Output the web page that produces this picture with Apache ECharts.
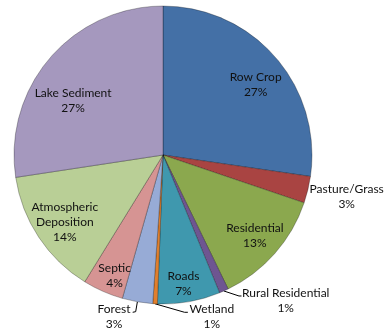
<!DOCTYPE html>
<html>
<head>
<meta charset="utf-8">
<script src="https://cdn.jsdelivr.net/npm/echarts@6/dist/echarts.min.js"></script>
<style>
  html, body { margin: 0; padding: 0; background: #fff; }
  #chart { width: 390px; height: 334px; }
</style>
</head>
<body>
<div id="chart"></div>
<script>
// Phosphorus load by source (share of total, %)
const categories = ['Row Crop', 'Pasture/Grass', 'Residential', 'Rural Residential', 'Roads',
  'Wetland', 'Forest', 'Septic', 'Atmospheric Deposition', 'Lake Sediment'];
const loadShare = [27.3, 2.9, 12.6, 1.0, 6.8, 0.5, 3.3, 4.4, 13.8, 27.4];
const labelText = ['Row Crop', 'Pasture/Grass', 'Residential', 'Rural Residential', 'Roads',
  'Wetland', 'Forest', 'Septic', 'Atmospheric\nDeposition', 'Lake Sediment'];
const sliceColors = ['#4470a6', '#a94442', '#8ba84e', '#6e5591', '#3f98ae',
  '#e07f2d', '#97abd6', '#d69493', '#b9cf96', '#a598be'];
// slices labelled outside the pie with a callout
const calloutNames = ['Pasture/Grass', 'Rural Residential', 'Wetland', 'Forest'];

const total = loadShare.reduce((a, b) => a + b, 0);
const pct = v => Math.round(v / total * 100) + '%';

const CENTER = [163, 155];
const RADIUS = 149;
const FONT = { fontFamily: 'Lato', fontSize: 12, lineHeight: 15, color: '#111' };

// callout placement relative to the slice's edge anchor: label centre + leader line bends
const calloutGeom = {
  'Pasture/Grass':     { label: [38.8, 6.9],   line: null },
  'Rural Residential': { label: [61.8, 9.7],   line: [[15.1, 5], [17.6, 5]] },
  'Wetland':           { label: [56.8, 12.4],  line: [[29.5, 8.5], [32.8, 8.5]] },
  'Forest':            { label: [-23.4, 14.4], line: [[-1.7, 9.9], [-4.7, 10.5]] }
};
// nudges for the in-slice labels so each sits well inside its wedge
const innerNudge = {
  'Row Crop': [0, 10],
  'Lake Sediment': [3, 25],
  'Roads': [-1, 8],
  'Septic': [1, 9],
  'Atmospheric Deposition': [4, 0]
};

const chart = echarts.init(document.getElementById('chart'), null, { renderer: 'canvas' });

const pieData = categories.map((name, i) => {
  const isCallout = calloutNames.includes(name);
  return {
    name,
    value: loadShare[i],
    itemStyle: { color: sliceColors[i] },
    label: { show: isCallout },
    labelLine: { show: isCallout, lineStyle: { opacity: name === 'Pasture/Grass' ? 0 : 1 } }
  };
});

const innerLabelData = categories.map((name, i) => ({
  name,
  value: loadShare[i],
  label: { show: !calloutNames.includes(name), offset: innerNudge[name] || [0, 0] }
}));

chart.setOption({
  animation: false,
  backgroundColor: '#ffffff',
  series: [
    {
      type: 'pie',
      center: CENTER,
      radius: RADIUS,
      startAngle: 90,
      clockwise: true,
      avoidLabelOverlap: false,
      silent: true,
      itemStyle: { borderColor: 'rgba(0,0,0,0.28)', borderWidth: 1 },
      label: {
        position: 'outside',
        formatter: p => labelText[p.dataIndex] + '\n' + pct(p.value),
        ...FONT
      },
      labelLine: { length: 10, length2: 5, lineStyle: { color: '#000', width: 1 } },
      labelLayout: params => {
        const g = calloutGeom[categories[params.dataIndex]];
        if (!g || !params.labelLinePoints) return {};
        const [ax, ay] = params.labelLinePoints[0];
        const out = {
          x: ax + g.label[0],
          y: ay + g.label[1],
          align: 'center',
          verticalAlign: 'middle'
        };
        out.labelLinePoints = g.line
          ? [[ax, ay], [ax + g.line[0][0], ay + g.line[0][1]], [ax + g.line[1][0], ay + g.line[1][1]]]
          : [[ax, ay], [ax, ay], [ax, ay]];
        return out;
      },
      data: pieData
    },
    {
      // transparent ring carrying the in-slice labels
      type: 'pie',
      center: CENTER,
      radius: [90, RADIUS],
      startAngle: 90,
      clockwise: true,
      silent: true,
      itemStyle: { color: 'rgba(0,0,0,0)', borderWidth: 0 },
      label: {
        position: 'inside',
        align: 'center',
        formatter: p => labelText[p.dataIndex] + '\n' + pct(p.value),
        ...FONT
      },
      labelLine: { show: false },
      data: innerLabelData
    }
  ]
});
</script>
</body>
</html>
